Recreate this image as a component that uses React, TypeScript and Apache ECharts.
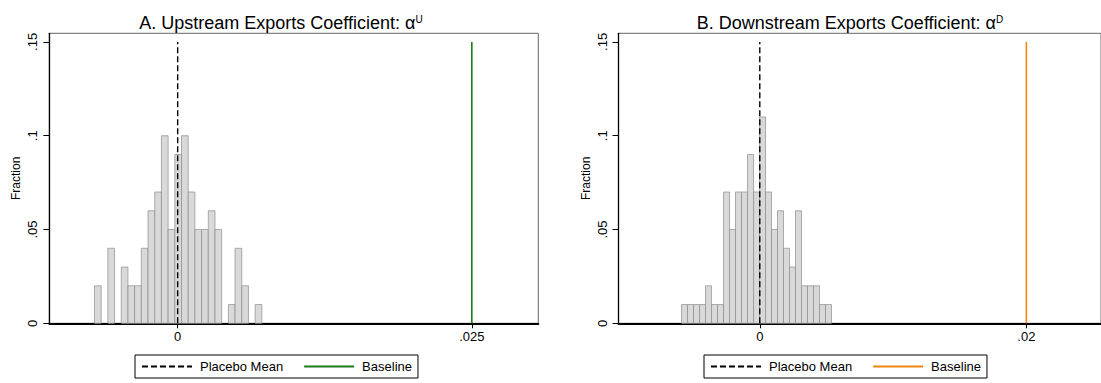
import React, { useEffect, useRef } from "react";
import * as echarts from "echarts";

// ---- data ----
const binStartA = -0.00707;
const binWidthA = 0.000569;
const fractionA = [0.02, 0, 0.04, 0, 0.03, 0.02, 0.02, 0.04, 0.06, 0.07, 0.10, 0.05, 0.09, 0.10, 0.07, 0.05, 0.05, 0.06, 0.05, 0, 0.01, 0.04, 0.02, 0, 0.01];

const binStartB = -0.00587;
const binWidthB = 0.00045;
const fractionB = [0.01, 0.01, 0.01, 0.01, 0.02, 0.01, 0.01, 0.07, 0.05, 0.07, 0.07, 0.09, 0.07, 0.11, 0.07, 0.05, 0.06, 0.04, 0.03, 0.06, 0.02, 0.02, 0.02, 0.01, 0.01];

const placeboMeanA = 0;
const placeboMeanB = 0;
const baselineA = 0.025;
const baselineB = 0.02;
const refLineTop = 0.15;

const xTicksA = [0, 0.025];
const xTicksB = [0, 0.02];
const yTicks = [0, 0.05, 0.1, 0.15];

const FONT = "'Liberation Sans', Arial, Helvetica, sans-serif";

function bins(start: number, width: number, vals: number[]) {
  return vals.map((v, i) => [start + i * width, start + (i + 1) * width, v]);
}

const fmt = (v: number) => (v === 0 ? "0" : String(+v.toFixed(4)).replace(/^0\./, ".").replace(/^-0\./, "-."));

export default function App() {
  const ref = useRef<HTMLDivElement>(null);
  useEffect(() => {
    if (!ref.current) return;
    const chart = echarts.init(ref.current, undefined, { renderer: "svg" });
    const gridA = { left: 49.3, top: 33.3, width: 489, height: 290 };
    const gridB = { left: 618.5, top: 33.3, width: 489, height: 290 };

    const xAxis = (min: number, max: number, ticks: number[], gi: number) => ({
      type: "value",
      gridIndex: gi,
      min,
      max,
      axisLine: { show: true, onZero: false, lineStyle: { color: "#000", width: 2 } },
      axisTick: { show: true, customValues: ticks, length: 5, lineStyle: { color: "#000", width: 1 } },
      axisLabel: { customValues: ticks, formatter: fmt, margin: 7, color: "#000", fontSize: 13, fontFamily: FONT },
      splitLine: { show: false },
    });
    const yAxis = (gi: number) => ({
      type: "value",
      gridIndex: gi,
      min: 0,
      max: 0.1546,
      name: "Fraction",
      nameLocation: "middle",
      nameGap: 27,
      nameTextStyle: { color: "#000", fontSize: 12, fontFamily: FONT },
      axisLine: { show: true, onZero: false, lineStyle: { color: "#000", width: 1.3 } },
      axisTick: { show: true, customValues: yTicks, length: 6, lineStyle: { color: "#000", width: 1 } },
      axisLabel: { customValues: yTicks, formatter: fmt, rotate: 90, margin: 10, color: "#000", fontSize: 13, fontFamily: FONT },
      splitLine: { show: false },
    });

    const hist = (data: number[][], xi: number) => ({
      type: "custom",
      xAxisIndex: xi,
      yAxisIndex: xi,
      silent: true,
      z: 2,
      data: data,
      renderItem: (params: any, api: any) => {
        const h = api.value(2);
        if (!h) return null;
        const p0 = api.coord([api.value(0), h]);
        const p1 = api.coord([api.value(1), 0]);
        return {
          type: "rect",
          shape: { x: p0[0], y: p0[1], width: p1[0] - p0[0], height: p1[1] - p0[1] },
          style: { fill: "#d9d9d9", stroke: "#8c8c8c", lineWidth: 0.7 },
        };
      },
    });

    const vline = (name: string, x: number, xi: number, color: string, dashed: boolean) => ({
      type: "line",
      name,
      xAxisIndex: xi,
      yAxisIndex: xi,
      symbol: "none",
      z: 5,
      data: [[x, 0], [x, refLineTop]],
      lineStyle: { color, width: dashed ? 1.4 : 1.6, type: dashed ? [6, 3] : "solid" },
      itemStyle: { color },
    });

    const legend = (left: number, names: string[]) => ({
      left,
      top: 355,
      orient: "horizontal",
      data: names,
      itemWidth: 50,
      itemHeight: 12,
      itemGap: 20,
      padding: [5, 6, 5, 6],
      borderColor: "#000",
      borderWidth: 1,
      selectedMode: false,
      itemStyle: { opacity: 0 },
      formatter: (n: string) => n.trim(),
      textStyle: { color: "#000", fontSize: 13, fontFamily: FONT, padding: [0, 0, 0, 3] },
    });

    const titleStyle = {
      rich: {
        t: { fontSize: 18, fontWeight: "normal", fontFamily: FONT, color: "#000" },
        s: { fontSize: 10, fontWeight: "normal", fontFamily: FONT, color: "#000", verticalAlign: "top", padding: [0, 0, 7, 0] },
      },
    };

    chart.setOption({
      animation: false,
      backgroundColor: "#fff",
      title: [
        {
          text: "{t|A. Upstream Exports Coefficient: α}{s|U}",
          left: 276,
          top: 9,
          textAlign: "center",
          textStyle: titleStyle,
        },
        {
          text: "{t|B. Downstream Exports Coefficient: α}{s|D}",
          left: 845,
          top: 9,
          textAlign: "center",
          textStyle: titleStyle,
        },
      ],
      grid: [
        { ...gridA, show: true, borderColor: "#666", borderWidth: 1 },
        { ...gridB, show: true, borderColor: "#666", borderWidth: 1 },
      ],
      xAxis: [xAxis(-0.01091, 0.03065, xTicksA, 0), xAxis(-0.0106, 0.0256, xTicksB, 1)],
      yAxis: [yAxis(0), yAxis(1)],
      legend: [legend(135, ["Placebo Mean", "Baseline"]), legend(704, ["Placebo Mean ", "Baseline "])],
      series: [
        hist(bins(binStartA, binWidthA, fractionA), 0),
        hist(bins(binStartB, binWidthB, fractionB), 1),
        vline("Placebo Mean", placeboMeanA, 0, "#000", true),
        vline("Baseline", baselineA, 0, "#1b7a1b", false),
        vline("Placebo Mean ", placeboMeanB, 1, "#000", true),
        vline("Baseline ", baselineB, 1, "#f0870f", false),
      ],
    });
    return () => chart.dispose();
  }, []);
  return <div ref={ref} style={{ position: "absolute", left: 0, top: 0, width: 1101, height: 383 }} />;
}
